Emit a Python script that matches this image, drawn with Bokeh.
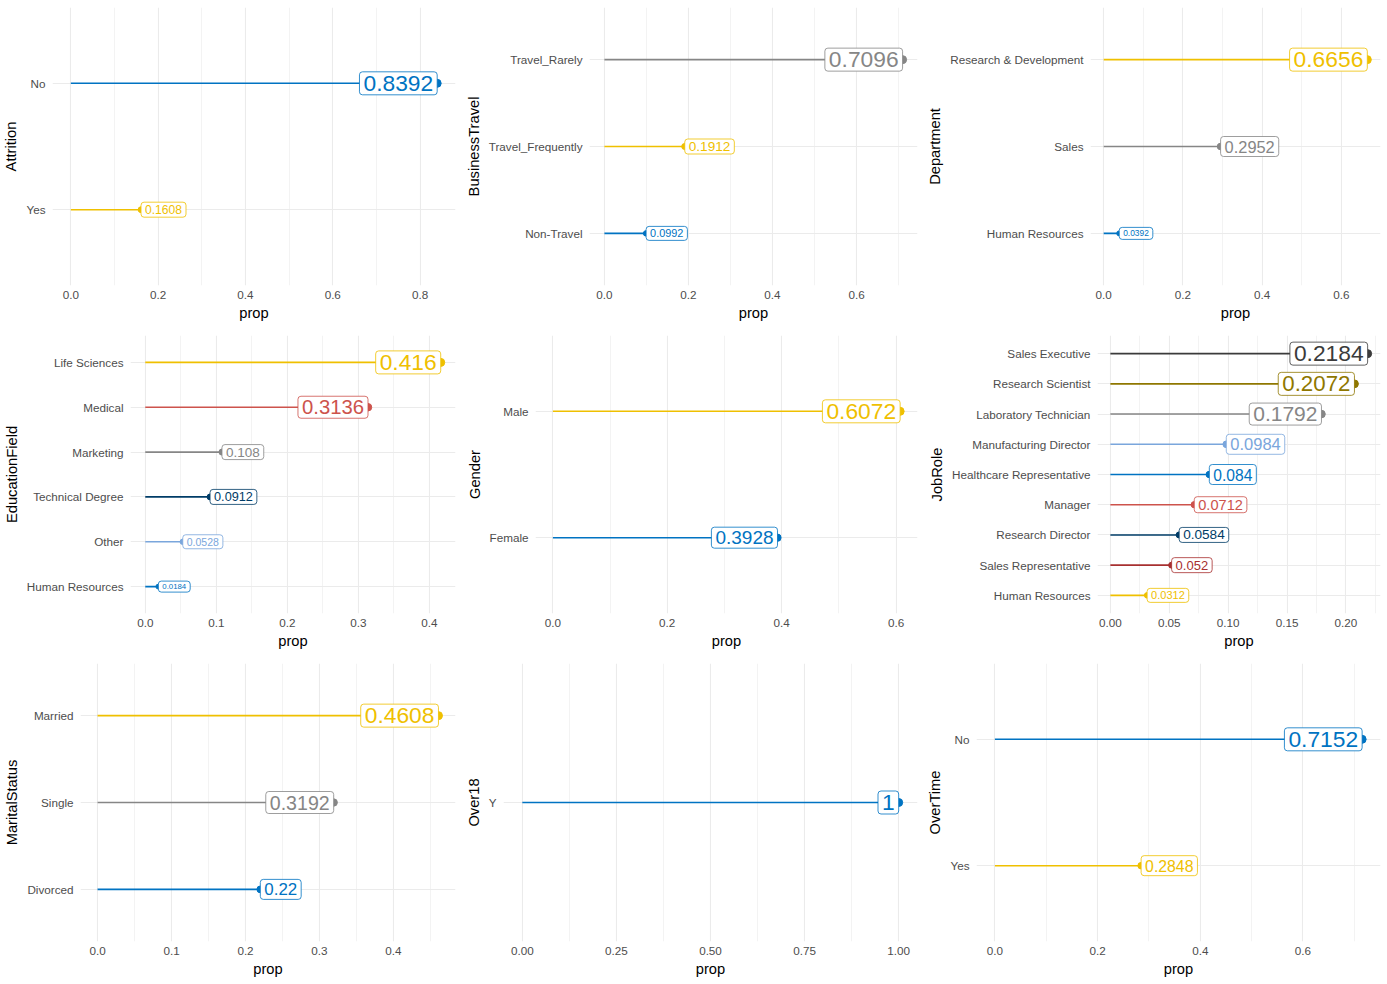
import math
from bokeh.plotting import figure
from bokeh.layouts import row, column
from bokeh.models import FactorRange, Range1d, FixedTicker, NumeralTickFormatter
from bokeh.core.properties import value
from bokeh.embed import file_html
from bokeh.resources import INLINE

# ---------------- data ----------------
attrition_cats = ["No", "Yes"]
attrition_prop = [0.8392, 0.1608]

businesstravel_cats = ["Travel_Rarely", "Travel_Frequently", "Non-Travel"]
businesstravel_prop = [0.7096, 0.1912, 0.0992]

department_cats = ["Research & Development", "Sales", "Human Resources"]
department_prop = [0.6656, 0.2952, 0.0392]

educationfield_cats = ["Life Sciences", "Medical", "Marketing", "Technical Degree", "Other", "Human Resources"]
educationfield_prop = [0.416, 0.3136, 0.108, 0.0912, 0.0528, 0.0184]

gender_cats = ["Male", "Female"]
gender_prop = [0.6072, 0.3928]

jobrole_cats = ["Sales Executive", "Research Scientist", "Laboratory Technician", "Manufacturing Director",
                "Healthcare Representative", "Manager", "Research Director", "Sales Representative",
                "Human Resources"]
jobrole_prop = [0.2184, 0.2072, 0.1792, 0.0984, 0.084, 0.0712, 0.0584, 0.052, 0.0312]

maritalstatus_cats = ["Married", "Single", "Divorced"]
maritalstatus_prop = [0.4608, 0.3192, 0.22]

over18_cats = ["Y"]
over18_prop = [1.0]

overtime_cats = ["No", "Yes"]
overtime_prop = [0.7152, 0.2848]

# x-axis tick values
ticks_02_08 = [0.0, 0.2, 0.4, 0.6, 0.8]
ticks_02_06 = [0.0, 0.2, 0.4, 0.6]
ticks_01_04 = [0.0, 0.1, 0.2, 0.3, 0.4]
ticks_005_02 = [0.0, 0.05, 0.10, 0.15, 0.20]
ticks_025_1 = [0.0, 0.25, 0.50, 0.75, 1.00]

# ---------------- style ----------------
JCO = ["#0073C2", "#EFC000", "#868686", "#CD534C", "#7AA6DC",
       "#003C67", "#8F7700", "#3B3B3B", "#A73030", "#4A6990"]
FONT = "Liberation Sans"
GRID = "#EBEBEB"

panels = [
    ("Attrition", attrition_cats, attrition_prop, ticks_02_08, "0.0"),
    ("BusinessTravel", businesstravel_cats, businesstravel_prop, ticks_02_06, "0.0"),
    ("Department", department_cats, department_prop, ticks_02_06, "0.0"),
    ("EducationField", educationfield_cats, educationfield_prop, ticks_01_04, "0.0"),
    ("Gender", gender_cats, gender_prop, ticks_02_06, "0.0"),
    ("JobRole", jobrole_cats, jobrole_prop, ticks_005_02, "0.00"),
    ("MaritalStatus", maritalstatus_cats, maritalstatus_prop, ticks_01_04, "0.0"),
    ("Over18", over18_cats, over18_prop, ticks_025_1, "0.00"),
    ("OverTime", overtime_cats, overtime_prop, ticks_02_06, "0.0"),
]

# layout (frame left offsets within each cell)
widths = [462, 462, 463]
lefts = [51, 127, 166, 130, 73, 173, 80, 40, 50]


def make_panel(k, var, cats, props, ticks, fmt):
    vmax = max(props)
    n = len(cats)
    lo, hi = -0.05 * vmax, 1.05 * vmax
    p = figure(width=widths[k % 3], height=328, output_backend="svg", toolbar_location=None,
               x_range=Range1d(lo, hi),
               y_range=FactorRange(factors=list(reversed(cats)), range_padding=0.2 / n,
                                   range_padding_units="percent"),
               min_border_left=lefts[k], min_border_right=7, min_border_top=7, min_border_bottom=43)
    p.outline_line_color = None
    p.background_fill_color = "white"
    p.border_fill_color = "white"

    order = sorted(cats)
    colors = [JCO[order.index(c)] for c in cats]

    # minor ticks halfway between majors
    step = ticks[1] - ticks[0]
    minor = []
    m = ticks[0] + step / 2
    while m <= hi:
        minor.append(round(m, 6))
        m += step

    p.xaxis.ticker = FixedTicker(ticks=ticks, minor_ticks=minor)
    p.xaxis.formatter = NumeralTickFormatter(format=fmt)
    p.xaxis.axis_label = "prop"
    p.yaxis.axis_label = var
    for ax in p.axis:
        ax.axis_line_color = None
        ax.major_tick_line_color = None
        ax.minor_tick_line_color = None
        ax.major_tick_out = 0
        ax.major_tick_in = 0
        ax.minor_tick_out = 0
        ax.major_label_text_font = FONT
        ax.major_label_text_font_size = "11.7px"
        ax.major_label_text_color = "#4D4D4D"
        ax.axis_label_text_font = FONT
        ax.axis_label_text_font_size = "14.7px"
        ax.axis_label_text_font_style = "normal"
        ax.axis_label_text_color = "#000000"
    p.xaxis.major_label_standoff = 5
    p.xaxis.axis_label_standoff = 3
    p.yaxis.major_label_standoff = 7
    p.yaxis.axis_label_standoff = 4

    p.xgrid.grid_line_color = GRID
    p.xgrid.grid_line_width = 1.1
    p.xgrid.minor_grid_line_color = GRID
    p.xgrid.minor_grid_line_width = 0.6
    p.ygrid.grid_line_color = GRID
    p.ygrid.grid_line_width = 1.1

    zeros = [0.0] * n
    p.segment(x0=zeros, y0=cats, x1=props, y1=cats, line_color=colors, line_width=1.6)
    psize = [4 + 4 * math.sqrt(v / vmax) for v in props]
    p.scatter(x=props, y=cats, size=psize, fill_color=colors, line_color=colors)

    for c, v, col in zip(cats, props, colors):
        fs = 3.79 + 18.97 * math.sqrt(v / vmax)
        npc = (v - lo) / (hi - lo)
        align = "right" if npc > 0.501 else ("left" if npc < 0.499 else "center")
        vpad = int(round(2 + 0.1 * fs))
        p.text(x=[v], y=[c], text=[f"{v:g}"], text_align=align, text_baseline="middle",
               text_font=value(FONT), text_font_size=f"{fs:.1f}px", text_color=col,
               background_fill_color="white", border_line_color=col, border_line_width=1,
               border_line_alpha=0.8, padding=(4, vpad), border_radius=3)
    return p


figs = [make_panel(k, *pp) for k, pp in enumerate(panels)]
layout = column(row(*figs[0:3]), row(*figs[3:6]), row(*figs[6:9]))

open("out.html", "w").write(file_html(layout, INLINE))
